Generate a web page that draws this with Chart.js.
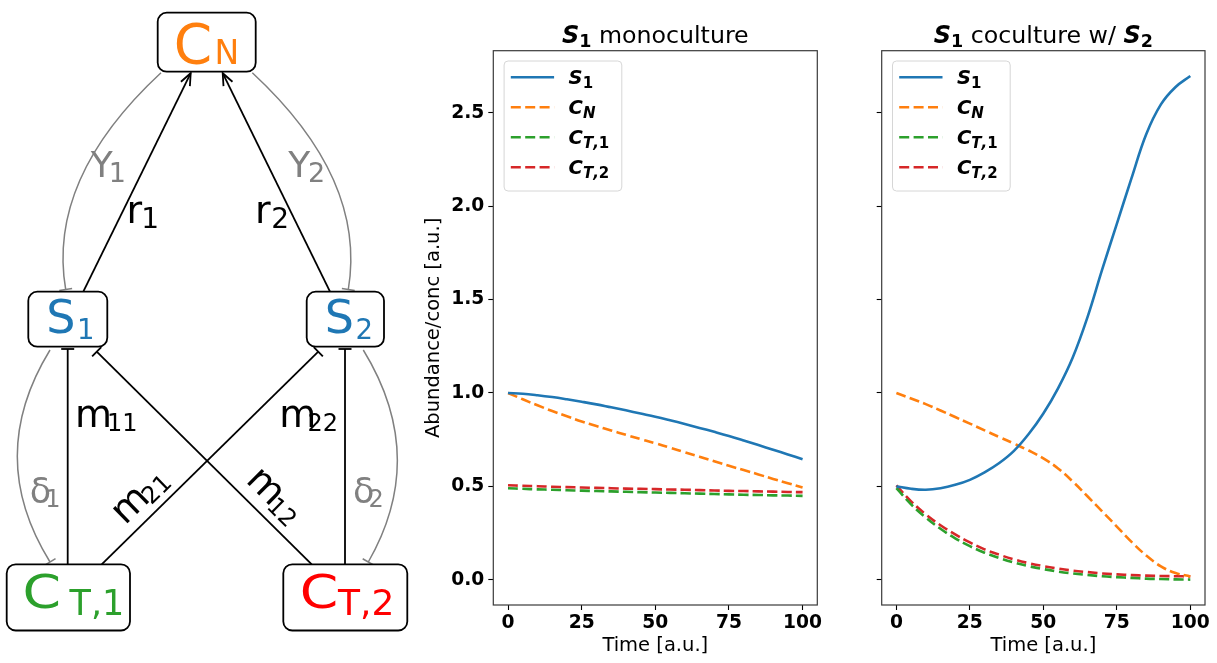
<!DOCTYPE html>
<html><head><meta charset="utf-8">
<script src="https://cdn.jsdelivr.net/npm/chart.js@4.4.1/dist/chart.umd.min.js"></script>
<style>
html,body{margin:0;padding:0;background:#fff;}
body{width:1217px;height:663px;position:relative;overflow:hidden;}
canvas{position:absolute;top:0;}
#diag{left:0;} #mono{left:415px;} #co{left:860px;}
</style></head><body>
<canvas id="diag" width="410" height="663"></canvas>
<canvas id="mono" width="425" height="663"></canvas>
<canvas id="co" width="357" height="663"></canvas>
<script>
// ---------------- data ----------------
const time = [0,5,10,15,20,25,30,35,40,45,50,55,60,65,70,75,80,85,90,95,100];
const xTicks = [0,25,50,75,100];
const yTicks = [0,0.5,1,1.5,2,2.5];
const seriesLabels = ['S_1','C_N','C_T,1','C_T,2'];

const monoS1  = [1.000,0.996,0.988,0.978,0.966,0.953,0.939,0.923,0.907,0.890,0.873,0.854,0.834,0.813,0.792,0.770,0.746,0.721,0.696,0.671,0.645];
const monoCN  = [1.000,0.966,0.934,0.903,0.875,0.847,0.823,0.799,0.776,0.753,0.731,0.707,0.683,0.659,0.634,0.610,0.587,0.564,0.540,0.517,0.494];
const monoCT1 = [0.490,0.487,0.484,0.482,0.479,0.477,0.475,0.473,0.471,0.469,0.467,0.465,0.463,0.461,0.459,0.457,0.455,0.454,0.452,0.451,0.449];
const monoCT2 = [0.506,0.503,0.501,0.498,0.496,0.494,0.492,0.490,0.488,0.487,0.485,0.483,0.482,0.480,0.478,0.476,0.475,0.473,0.472,0.470,0.469];

const coS1  = [0.500,0.487,0.482,0.490,0.508,0.535,0.575,0.625,0.690,0.780,0.890,1.025,1.190,1.405,1.660,1.905,2.150,2.385,2.545,2.638,2.697];
const coCN  = [1.000,0.970,0.940,0.906,0.871,0.836,0.800,0.764,0.729,0.692,0.650,0.596,0.526,0.447,0.366,0.285,0.203,0.130,0.072,0.036,0.018];
const coCT1 = [0.490,0.404,0.333,0.273,0.222,0.180,0.145,0.116,0.092,0.073,0.057,0.044,0.034,0.026,0.019,0.014,0.010,0.006,0.004,0.002,0.001];
const coCT2 = [0.505,0.420,0.350,0.292,0.243,0.200,0.163,0.134,0.109,0.089,0.073,0.060,0.049,0.041,0.034,0.029,0.025,0.022,0.020,0.019,0.018];

// diagram node names and edge labels (text content)
const nodeNames = ['C_N','S_1','S_2','C_T,1','C_T,2'];
const edgeNames = ['r_1','r_2','Y_1','Y_2','m_11','m_22','m_21','m_12','δ_1','δ_2'];

// ---------------- styles / layout ----------------
const FF = 'DejaVu Sans';
Chart.defaults.font.family = FF;
const seriesStyle = [
  {color:'#1f77b4', dash:[]},
  {color:'#ff7f0e', dash:[10,4.4]},
  {color:'#2ca02c', dash:[10,4.4]},
  {color:'#d62728', dash:[10,4.4]}
];
const GRAY = '#808080';

// diagram layout (pixel units of the diagram canvas)
const DL = {
  nodes: [
    {box:[157.7,12.7,255.7,71.7], color:'#ff7f0e', mx:173.7, my:62.5, ms:55, sxs:1, subx:214.5, suby:63.5, ss:33},
    {box:[28.3,291.7,107.3,346.7], color:'#1f77b4', mx:46.3, my:332.6, ms:46, sxs:1, subx:77, suby:339.3, ss:27.5},
    {box:[306.7,291.7,384,346.7], color:'#1f77b4', mx:324.7, my:332.6, ms:46, sxs:1, subx:355.4, suby:339.3, ss:27.5},
    {box:[6.7,564.3,130,630.5], color:'#2ca02c', mx:22.4, my:608, ms:46, sxs:1.2, subx:69.5, suby:615, ss:35},
    {box:[283.3,564.3,407.3,630.5], color:'#ff0000', mx:299.7, my:608, ms:46, sxs:1.2, subx:338, suby:615, ss:36}
  ],
  edges: [
    {from:[83.3,291.7], to:[190.7,73.2], color:'#000', w:1.8, end:'arrow'},
    {from:[330,291.7], to:[222.7,73.2], color:'#000', w:1.8, end:'arrow'},
    {from:[161,72.7], ctrl:[46.7,178.7], to:[65.7,289.5], color:GRAY, w:1.5, end:'tee'},
    {from:[252.3,72.7], ctrl:[366.7,178.7], to:[348.3,289.5], color:GRAY, w:1.5, end:'tee'},
    {from:[67.7,564.3], to:[67.7,349], color:'#000', w:1.8, end:'tee'},
    {from:[345,564.3], to:[345,349], color:'#000', w:1.8, end:'tee'},
    {from:[101.7,564.3], to:[318.3,351.7], color:'#000', w:1.8, end:'tee'},
    {from:[311.7,564.3], to:[96.7,351.7], color:'#000', w:1.8, end:'tee'},
    {from:[50,350], ctrl:[-15.4,456.7], to:[50,562], color:GRAY, w:1.5, end:'tee'},
    {from:[363.3,350], ctrl:[428.8,456.7], to:[368.3,562], color:GRAY, w:1.5, end:'tee'}
  ],
  labels: [
    {x:126.6, y:222.7, ms:38, subx:141.3, suby:228.3, ss:28, color:'#000'},
    {x:254.9, y:222.7, ms:38, subx:271.3, suby:228.3, ss:28, color:'#000'},
    {x:90.7, y:176.7, ms:36, subx:108.7, suby:181.7, ss:27, color:GRAY},
    {x:288.3, y:176.7, ms:36, subx:308, suby:181.7, ss:27, color:GRAY},
    {x:74.9, y:426.7, ms:38, subx:107, suby:430.7, ss:24, color:'#000'},
    {x:279.3, y:426.7, ms:38, subx:307.5, suby:430.7, ss:24, color:'#000'},
    {cx:141.7, cy:497.5, rot:-0.775, ms:38, ss:24, color:'#000'},
    {cx:273.3, cy:497.5, rot:0.778, ms:38, ss:24, color:'#000'},
    {x:29.7, y:503.3, ms:35, subx:45.3, suby:507.3, ss:24, color:GRAY},
    {x:353, y:503.3, ms:35, subx:368.5, suby:507.3, ss:24, color:GRAY}
  ]
};

function splitName(s){ const i = s.indexOf('_'); return [s.slice(0,i), s.slice(i+1)]; }

const diagramPlugin = {
  id:'diagram',
  afterDraw(chart){
    const ctx = chart.ctx, sx = chart.scales.x, sy = chart.scales.y;
    const P = p => [sx.getPixelForValue(p[0]), sy.getPixelForValue(p[1])];
    ctx.save();
    DL.edges.forEach(e => {
      const a = P(e.from), b = P(e.to);
      ctx.strokeStyle = e.color; ctx.lineWidth = e.w; ctx.lineCap = 'butt';
      ctx.beginPath(); ctx.moveTo(a[0], a[1]);
      let dir;
      if (e.ctrl) { const c = P(e.ctrl); ctx.quadraticCurveTo(c[0], c[1], b[0], b[1]); dir = [b[0]-c[0], b[1]-c[1]]; }
      else { ctx.lineTo(b[0], b[1]); dir = [b[0]-a[0], b[1]-a[1]]; }
      ctx.stroke();
      const L = Math.hypot(dir[0], dir[1]); const d = [dir[0]/L, dir[1]/L]; const n = [-d[1], d[0]];
      ctx.beginPath();
      if (e.end === 'arrow') {
        const hl = 12, hw = 5;
        ctx.moveTo(b[0]-hl*d[0]+hw*n[0], b[1]-hl*d[1]+hw*n[1]);
        ctx.lineTo(b[0], b[1]);
        ctx.lineTo(b[0]-hl*d[0]-hw*n[0], b[1]-hl*d[1]-hw*n[1]);
      } else {
        const h = 6.5;
        ctx.moveTo(b[0]+h*n[0], b[1]+h*n[1]);
        ctx.lineTo(b[0]-h*n[0], b[1]-h*n[1]);
      }
      ctx.stroke();
    });
    DL.nodes.forEach((nd, i) => {
      const [main, sub] = splitName(nodeNames[i]);
      const p0 = P([nd.box[0], nd.box[1]]), p1 = P([nd.box[2], nd.box[3]]);
      ctx.beginPath();
      ctx.roundRect(p0[0], p0[1], p1[0]-p0[0], p1[1]-p0[1], 9);
      ctx.fillStyle = '#fff'; ctx.fill();
      ctx.strokeStyle = '#000'; ctx.lineWidth = 1.8; ctx.stroke();
      ctx.fillStyle = nd.color; ctx.textBaseline = 'alphabetic'; ctx.textAlign = 'left';
      const m = P([nd.mx, nd.my]);
      ctx.save(); ctx.translate(m[0], m[1]); ctx.scale(nd.sxs, 1);
      ctx.font = nd.ms + 'px "' + FF + '"'; ctx.fillText(main, 0, 0); ctx.restore();
      const s = P([nd.subx, nd.suby]);
      ctx.font = nd.ss + 'px "' + FF + '"'; ctx.fillText(sub, s[0], s[1]);
    });
    DL.labels.forEach((lb, i) => {
      const [main, sub] = splitName(edgeNames[i]);
      ctx.fillStyle = lb.color; ctx.textBaseline = 'alphabetic'; ctx.textAlign = 'left';
      if (lb.rot !== undefined) {
        const c = P([lb.cx, lb.cy]);
        ctx.save(); ctx.translate(c[0], c[1]); ctx.rotate(lb.rot);
        ctx.font = lb.ms + 'px "' + FF + '"'; const wm = ctx.measureText(main).width;
        ctx.font = lb.ss + 'px "' + FF + '"'; const ws = ctx.measureText(sub).width;
        const tot = wm + ws - 4; const x0 = -tot/2;
        ctx.font = lb.ms + 'px "' + FF + '"'; ctx.fillText(main, x0, 8.5);
        ctx.font = lb.ss + 'px "' + FF + '"'; ctx.fillText(sub, x0 + wm - 4, 12.5);
        ctx.restore();
      } else {
        const m = P([lb.x, lb.y]), s = P([lb.subx, lb.suby]);
        ctx.font = lb.ms + 'px "' + FF + '"'; ctx.fillText(main, m[0], m[1]);
        ctx.font = lb.ss + 'px "' + FF + '"'; ctx.fillText(sub, s[0], s[1]);
      }
    });
    ctx.restore();
  }
};

new Chart(document.getElementById('diag'), {
  type:'scatter',
  data:{datasets:[]},
  options:{
    responsive:false, animation:false, devicePixelRatio:1, events:[],
    layout:{padding:0},
    plugins:{legend:{display:false}, tooltip:{enabled:false}},
    scales:{
      x:{type:'linear', min:0, max:410, display:false},
      y:{type:'linear', min:0, max:663, reverse:true, display:false}
    }
  },
  plugins:[diagramPlugin]
});

function drawParts(ctx, parts, cx, baseline, align){
  let total = 0;
  parts.forEach(p => { ctx.font = p.f; p.w = ctx.measureText(p.t).width; total += p.w; });
  let x = align === 'center' ? cx - total/2 : cx;
  parts.forEach(p => { ctx.font = p.f; ctx.fillText(p.t, x, baseline + (p.dy||0)); x += p.w; });
}
function mathParts(label, size, subSize, drop){
  const [main, sub] = splitName(label);
  const parts = [{t:main, f:'italic bold ' + size + 'px "' + FF + '"'}];
  for (const ch of sub) {
    const isDigit = /[0-9]/.test(ch);
    parts.push({t:ch, f:(isDigit ? '' : 'italic ') + 'bold ' + subSize + 'px "' + FF + '"', dy:drop});
  }
  return parts;
}

function makeLinePlugin(titleParts){
  return {
    id:'decor',
    afterDatasetsDraw(chart){
      const ctx = chart.ctx, a = chart.chartArea;
      ctx.save();
      ctx.strokeStyle = '#3a3a3a'; ctx.lineWidth = 1.2;
      ctx.strokeRect(a.left, a.top, a.right - a.left, a.bottom - a.top);
      ctx.fillStyle = '#000'; ctx.textBaseline = 'alphabetic'; ctx.textAlign = 'left';
      drawParts(ctx, titleParts(), (a.left + a.right)/2, 43.3, 'center');
      const bx = a.left + 10.8, by = a.top + 10.3, bw = 117.7, bh = 130;
      ctx.beginPath(); ctx.roundRect(bx, by, bw, bh, 4);
      ctx.fillStyle = 'rgba(255,255,255,0.8)'; ctx.fill();
      ctx.strokeStyle = '#d6d6d6'; ctx.lineWidth = 1; ctx.stroke();
      chart.data.datasets.forEach((ds, i) => {
        const cy = by + 16.3 + i*30;
        ctx.beginPath(); ctx.setLineDash(ds.borderDash || []);
        ctx.strokeStyle = ds.borderColor; ctx.lineWidth = ds.borderWidth; ctx.lineCap = 'butt';
        ctx.moveTo(bx + 6.7, cy); ctx.lineTo(bx + 50, cy); ctx.stroke();
        ctx.setLineDash([]);
        ctx.fillStyle = '#000';
        drawParts(ctx, mathParts(ds.label, 19.5, 15, 3.5), bx + 64.5, cy + 7, 'left');
      });
      ctx.restore();
    }
  };
}

function makeLineChart(id, values, padRight, yWidth, showYLabels, titleParts){
  const datasets = values.map((vals, i) => ({
    label: seriesLabels[i],
    data: time.map((t, k) => ({x:t, y:vals[k]})),
    borderColor: seriesStyle[i].color,
    borderDash: seriesStyle[i].dash,
    borderWidth: 2.6,
    pointRadius: 0,
    fill: false,
    tension: 0.4
  }));
  return new Chart(document.getElementById(id), {
    type:'line',
    data:{datasets},
    options:{
      responsive:false, animation:false, devicePixelRatio:1, events:[],
      layout:{padding:{left:0, right:padRight, top:50.7, bottom:0}},
      plugins:{legend:{display:false}, tooltip:{enabled:false}, title:{display:false}},
      scales:{
        x:{
          type:'linear', min:-5, max:105,
          afterBuildTicks: s => { s.ticks = xTicks.map(v => ({value:v})); },
          afterFit: s => { s.height = 58; },
          grid:{drawOnChartArea:false, drawTicks:true, tickLength:5, tickColor:'#000', tickWidth:1.1},
          border:{display:false},
          ticks:{font:{size:18.7, weight:'bold'}, color:'#000', padding:2.2, maxRotation:0, autoSkip:false,
                 callback: v => String(v)},
          title:{display:true, text:'Time [a.u.]', font:{size:19.5}, color:'#000', padding:{top:0, bottom:5.3}}
        },
        y:{
          type:'linear', min:-0.135, max:2.832,
          afterBuildTicks: s => { s.ticks = yTicks.map(v => ({value:v})); },
          afterFit: s => { s.width = yWidth; },
          grid:{drawOnChartArea:false, drawTicks:true, tickLength:5, tickColor:'#000', tickWidth:1.1},
          border:{display:false},
          ticks:{font:{size:18.7, weight:'bold'}, color:'#000', padding:4, autoSkip:false,
                 callback: v => showYLabels ? Number(v).toFixed(1) : ''},
          title:{display:showYLabels, text:'Abundance/conc [a.u.]', font:{size:19.5}, color:'#000', padding:{top:6.8, bottom:0}}
        }
      }
    },
    plugins:[makeLinePlugin(titleParts)]
  });
}

const bi = s => 'italic bold ' + s + 'px "' + FF + '"';
const bd = s => 'bold ' + s + 'px "' + FF + '"';
const rg = s => s + 'px "' + FF + '"';

makeLineChart('mono', [monoS1, monoCN, monoCT1, monoCT2], 22.7, 78.3, true,
  () => [{t:'S', f:bi(24)}, {t:'1', f:bd(17.5), dy:3.5}, {t:' monoculture', f:rg(23.7)}]);
makeLineChart('co', [coS1, coCN, coCT1, coCT2], 12, 21.7, false,
  () => [{t:'S', f:bi(24)}, {t:'1', f:bd(17.5), dy:3.5}, {t:' coculture w/ ', f:rg(23.7)}, {t:'S', f:bi(24)}, {t:'2', f:bd(17.5), dy:3.5}]);
</script>
</body></html>
